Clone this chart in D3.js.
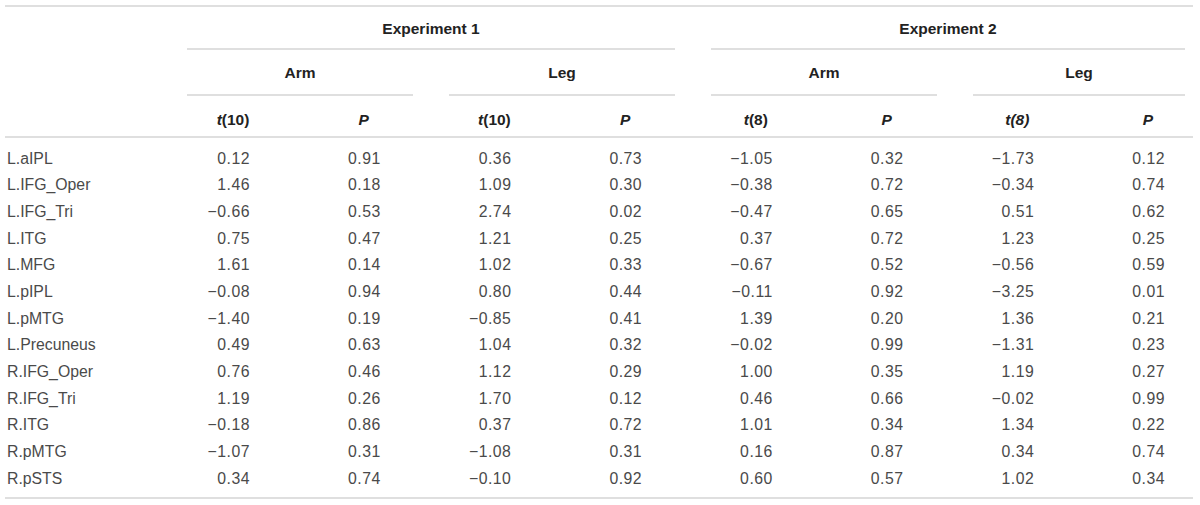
<!DOCTYPE html>
<html>
<head>
<meta charset="utf-8">
<script src="https://cdn.jsdelivr.net/npm/d3@7"></script>
<style>
  body { margin: 0; background: #fff; }
  svg { display: block; font-family: "Liberation Sans", Arial, sans-serif; }
</style>
</head>
<body>
<div id="wrapper"></div>
<script>
// table contents
const regions = ["L.aIPL", "L.IFG_Oper", "L.IFG_Tri", "L.ITG", "L.MFG", "L.pIPL", "L.pMTG",
  "L.Precuneus", "R.IFG_Oper", "R.IFG_Tri", "R.ITG", "R.pMTG", "R.pSTS"];

const exp1ArmT = [0.12, 1.46, -0.66, 0.75, 1.61, -0.08, -1.40, 0.49, 0.76, 1.19, -0.18, -1.07, 0.34];
const exp1ArmP = [0.91, 0.18, 0.53, 0.47, 0.14, 0.94, 0.19, 0.63, 0.46, 0.26, 0.86, 0.31, 0.74];
const exp1LegT = [0.36, 1.09, 2.74, 1.21, 1.02, 0.80, -0.85, 1.04, 1.12, 1.70, 0.37, -1.08, -0.10];
const exp1LegP = [0.73, 0.30, 0.02, 0.25, 0.33, 0.44, 0.41, 0.32, 0.29, 0.12, 0.72, 0.31, 0.92];
const exp2ArmT = [-1.05, -0.38, -0.47, 0.37, -0.67, -0.11, 1.39, -0.02, 1.00, 0.46, 1.01, 0.16, 0.60];
const exp2ArmP = [0.32, 0.72, 0.65, 0.72, 0.52, 0.92, 0.20, 0.99, 0.35, 0.66, 0.34, 0.87, 0.57];
const exp2LegT = [-1.73, -0.34, 0.51, 1.23, -0.56, -3.25, 1.36, -1.31, 1.19, -0.02, 1.34, 0.34, 1.02];
const exp2LegP = [0.12, 0.74, 0.62, 0.25, 0.59, 0.01, 0.21, 0.23, 0.27, 0.99, 0.22, 0.74, 0.34];

const experiments = ["Experiment 1", "Experiment 2"];
const limbs = ["Arm", "Leg"];
const statLabels = ["t(10)", "P", "t(10)", "P", "t(8)", "P", "t(8)", "P"];

const columns = [exp1ArmT, exp1ArmP, exp1LegT, exp1LegP, exp2ArmT, exp2ArmP, exp2LegT, exp2LegP];

const width = 1200, height = 505;
const left = 5, right = 1193;

const svg = d3.select("#wrapper")
  .append("svg")
  .attr("width", width)
  .attr("height", height);

// column header centers and value right edges
const colCenter = d3.scaleLinear().domain([0, 7]).range([233, 1148]);
const valOffset = 17;

// row centers
const rowY = d3.scaleLinear().domain([0, regions.length - 1]).range([158, 478]);

const fmt = d3.format(".2f");
const lineColor = "#d4d4d4";

function hline(y, x1, x2) {
  svg.append("line")
    .attr("x1", x1).attr("x2", x2)
    .attr("y1", y).attr("y2", y)
    .attr("stroke", lineColor)
    .attr("stroke-width", 1.6);
}

// rules
hline(6, left, right);
hline(137, left, right);
hline(498, left, right);

const groupLines = [[187, 675], [711, 1185]];
const subLines = [[187, 413], [449, 675], [711, 937], [973, 1185]];
groupLines.forEach(g => hline(49, g[0], g[1]));
subLines.forEach(g => hline(95, g[0], g[1]));

// experiment titles
svg.selectAll(".exp")
  .data(experiments)
  .enter()
  .append("text")
  .attr("x", (d, i) => (groupLines[i][0] + groupLines[i][1]) / 2)
  .attr("y", 28)
  .attr("text-anchor", "middle")
  .attr("dominant-baseline", "central")
  .attr("font-size", 15.5)
  .attr("font-weight", "bold")
  .attr("fill", "#222")
  .text(d => d);

// arm / leg
svg.selectAll(".limb")
  .data(subLines)
  .enter()
  .append("text")
  .attr("x", d => (d[0] + d[1]) / 2)
  .attr("y", 72)
  .attr("text-anchor", "middle")
  .attr("dominant-baseline", "central")
  .attr("font-size", 15.5)
  .attr("font-weight", "bold")
  .attr("fill", "#222")
  .text((d, i) => limbs[i % 2]);

// stat headers, t italic
const stat = svg.selectAll(".stat")
  .data(statLabels)
  .enter()
  .append("text")
  .attr("x", (d, i) => colCenter(i))
  .attr("y", 119)
  .attr("text-anchor", "middle")
  .attr("dominant-baseline", "central")
  .attr("font-size", 15.5)
  .attr("font-weight", "bold")
  .attr("fill", "#222");

stat.each(function (d, i) {
  const el = d3.select(this);
  if (d === "P") {
    el.append("tspan").attr("font-style", "italic").text("P");
  } else if (i === 6) {
    el.append("tspan").attr("font-style", "italic").text(d);
  } else {
    el.append("tspan").attr("font-style", "italic").text("t");
    el.append("tspan").text(d.slice(1));
  }
});

// region names
svg.selectAll(".region")
  .data(regions)
  .enter()
  .append("text")
  .attr("x", 7)
  .attr("y", (d, i) => rowY(i))
  .attr("dominant-baseline", "central")
  .attr("font-size", 15.8)
  .attr("fill", "#4a4a4a")
  .text(d => d);

// values
columns.forEach((col, c) => {
  svg.selectAll(".col" + c)
    .data(col)
    .enter()
    .append("text")
    .attr("x", colCenter(c) + valOffset)
    .attr("y", (d, i) => rowY(i))
    .attr("text-anchor", "end")
    .attr("dominant-baseline", "central")
    .attr("font-size", 15.8)
    .attr("letter-spacing", 0.5)
    .attr("fill", "#4a4a4a")
    .text(d => fmt(d));
});
</script>
</body>
</html>
